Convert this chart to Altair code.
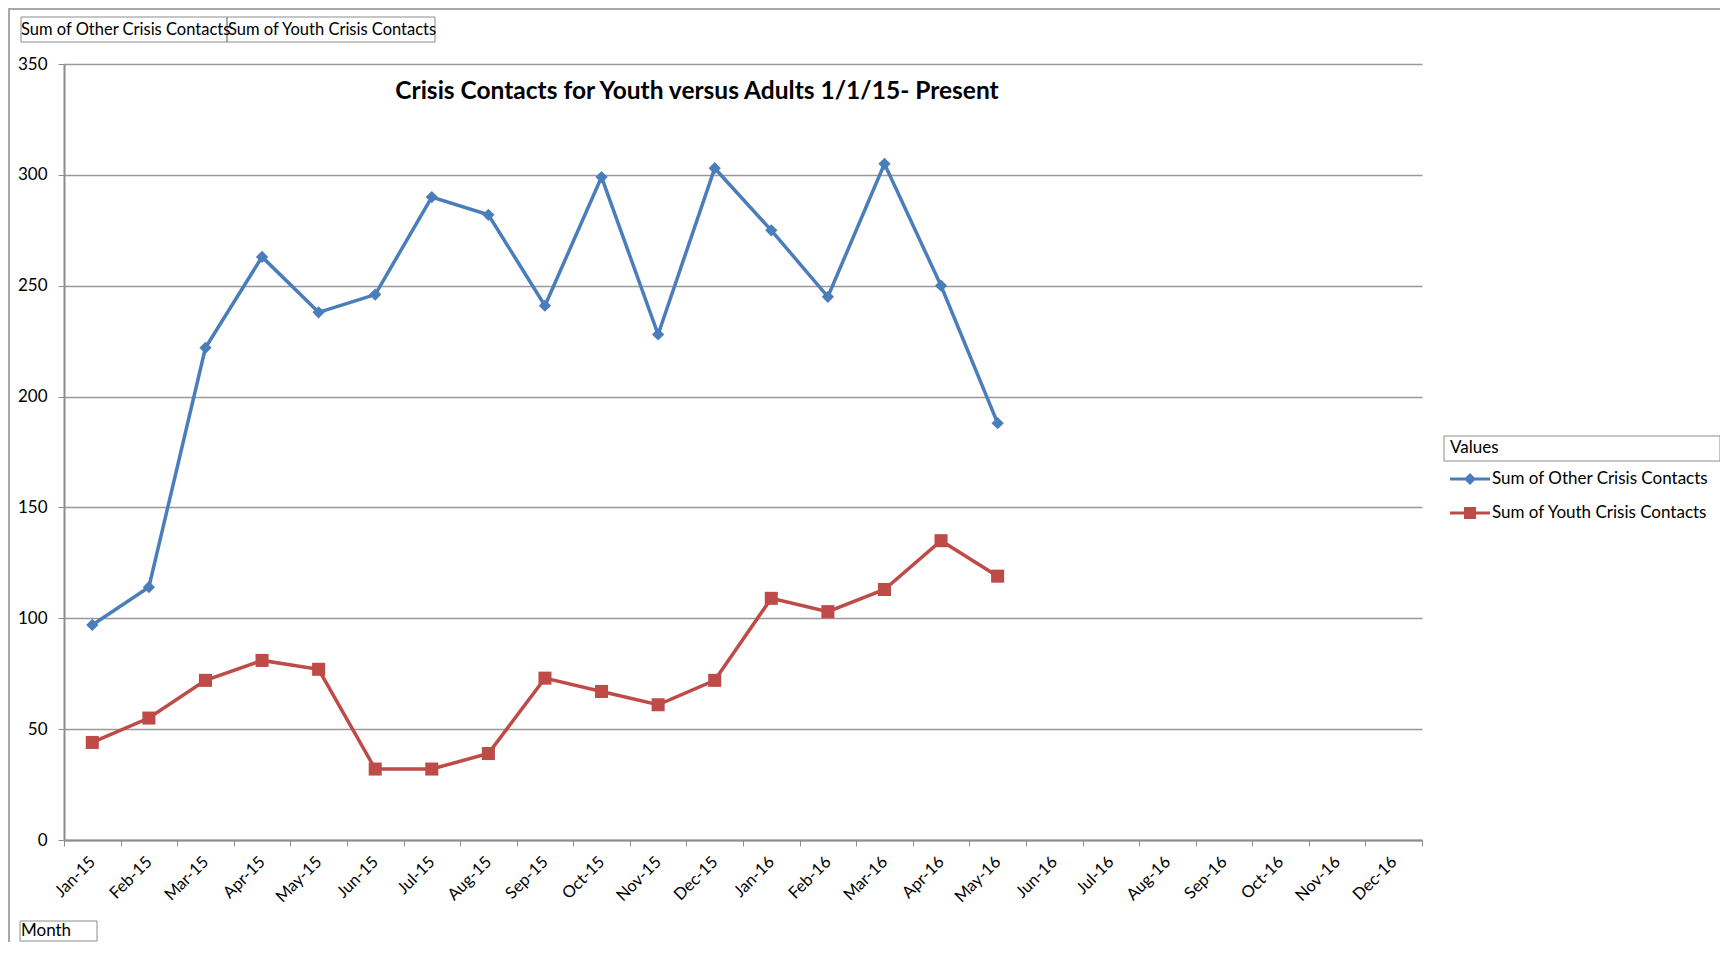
import altair as alt
import pandas as pd

months = ["Jan-15", "Feb-15", "Mar-15", "Apr-15", "May-15", "Jun-15", "Jul-15", "Aug-15",
          "Sep-15", "Oct-15", "Nov-15", "Dec-15", "Jan-16", "Feb-16", "Mar-16", "Apr-16",
          "May-16", "Jun-16", "Jul-16", "Aug-16", "Sep-16", "Oct-16", "Nov-16", "Dec-16"]
data_months = months[:17]
other = [97, 114, 222, 263, 238, 246, 290, 282, 241, 299, 228, 303, 275, 245, 305, 250, 188]
youth = [44, 55, 72, 81, 77, 32, 32, 39, 73, 67, 61, 72, 109, 103, 113, 135, 119]
series_names = ["Sum of Other Crisis Contacts", "Sum of Youth Crisis Contacts"]
colors = ["#4A7EBB", "#BE4B48"]
y_ticks = [0, 50, 100, 150, 200, 250, 300, 350]
title_text = "Crisis Contacts for Youth versus Adults 1/1/15- Present"
legend_title = "Values"
axis_button = "Month"

df = pd.DataFrame({
    "Month": data_months * 2,
    "Value": other + youth,
    "Series": [series_names[0]] * len(other) + [series_names[1]] * len(youth),
})

GRAY = "#8c8c8c"

x_enc = alt.X("Month:N", sort=months,
              scale=alt.Scale(type="band", domain=months, paddingInner=0, paddingOuter=0),
              axis=alt.Axis(title=None, labelAngle=-45, labelAlign="right", labelBaseline="middle",
                            tickBand="extent", labelFont="Lato", labelFontSize=16.5, labelColor="black",
                            domainColor=GRAY, domainWidth=2, tickColor=GRAY, tickSize=6,
                            labelPadding=13, grid=False))
y_enc = alt.Y("Value:Q", scale=alt.Scale(domain=[0, 350]),
              axis=alt.Axis(title=None, values=y_ticks, grid=True, gridColor="#999999", gridWidth=1.5,
                            domainColor=GRAY, domainWidth=2, tickColor=GRAY, tickSize=6,
                            labelFont="Lato", labelFontSize=17, labelColor="black",
                            labelPadding=11))
color_scale = alt.Scale(domain=series_names, range=colors)

base = alt.Chart(df)

lines = base.mark_line(strokeWidth=3.5).encode(
    x=x_enc, y=y_enc, color=alt.Color("Series:N", scale=color_scale, legend=None))

points = base.mark_point(filled=True, opacity=1).encode(
    x=x_enc, y=y_enc,
    color=alt.Color("Series:N", scale=color_scale, legend=None),
    shape=alt.Shape("Series:N", scale=alt.Scale(domain=series_names, range=["diamond", "square"]),
                    legend=None),
    size=alt.Size("Series:N", scale=alt.Scale(domain=series_names, range=[150, 170]), legend=None))

path_diamond = "M-1,-0.075L1,-0.075L1,0.075L-1,0.075Z M0,-0.3L0.3,0L0,0.3L-0.3,0Z"
path_square = "M-1,-0.075L1,-0.075L1,0.075L-1,0.075Z M-0.3,-0.3L0.3,-0.3L0.3,0.3L-0.3,0.3Z"

leg = alt.Legend(title=legend_title, orient="none", legendX=1386, legendY=376,
                 titleFont="Lato", titleFontSize=17, titleFontWeight="normal", titleColor="black",
                 titlePadding=12, labelFont="Lato", labelFontSize=17, labelColor="black",
                 labelOffset=2, symbolSize=1600, symbolStrokeWidth=0, symbolOpacity=1,
                 clipHeight=20, rowPadding=14, padding=0, labelLimit=400)

legend_layer = base.transform_filter("false").mark_point(filled=True, opacity=1).encode(
    x=x_enc, y=y_enc,
    color=alt.Color("Series:N", scale=color_scale, legend=leg),
    shape=alt.Shape("Series:N", scale=alt.Scale(domain=series_names, range=[path_diamond, path_square]),
                    legend=leg))

one = pd.DataFrame({"k": [0]})

frame = alt.Chart(one).mark_rect(filled=False, stroke="#8c8c8c", strokeWidth=1.5).encode(
    x=alt.value(-55), x2=alt.value(2000), y=alt.value(-55), y2=alt.value(2000))

box1 = alt.Chart(one).mark_rect(filled=False, stroke="#8c8c8c", strokeWidth=1).encode(
    x=alt.value(-43), x2=alt.value(163), y=alt.value(-47), y2=alt.value(-22))
box2 = alt.Chart(one).mark_rect(filled=False, stroke="#8c8c8c", strokeWidth=1).encode(
    x=alt.value(163), x2=alt.value(371), y=alt.value(-47), y2=alt.value(-22))
box_leg = alt.Chart(one).mark_rect(filled=False, stroke="#8c8c8c", strokeWidth=1).encode(
    x=alt.value(1380), x2=alt.value(1656), y=alt.value(372), y2=alt.value(397))
box_month = alt.Chart(one).mark_rect(filled=False, stroke="#8c8c8c", strokeWidth=1).encode(
    x=alt.value(-44), x2=alt.value(33), y=alt.value(857), y2=alt.value(877))

t1 = alt.Chart(pd.DataFrame({"t": [series_names[0]]})).mark_text(
    font="Lato", fontSize=16.5, align="left", baseline="middle", color="black").encode(
    text="t:N", x=alt.value(-43), y=alt.value(-34))
t2 = alt.Chart(pd.DataFrame({"t": [series_names[1]]})).mark_text(
    font="Lato", fontSize=16.5, align="left", baseline="middle", color="black").encode(
    text="t:N", x=alt.value(164), y=alt.value(-34))
t_month = alt.Chart(pd.DataFrame({"t": [axis_button]})).mark_text(
    font="Lato", fontSize=17, align="left", baseline="middle", color="black").encode(
    text="t:N", x=alt.value(-43), y=alt.value(867))
t_title = alt.Chart(pd.DataFrame({"t": [title_text]})).mark_text(
    font="Lato", fontSize=24.5, fontWeight="bold", align="center", baseline="middle", color="black").encode(
    text="t:N", x=alt.value(633), y=alt.value(28))

chart = alt.layer(
    frame, box1, box2, box_leg, box_month, t1, t2, t_month, t_title,
    lines, points, legend_layer
).resolve_scale(color="independent", shape="independent", size="independent").properties(
    width=1358, height=776,
    padding={"left": 56, "top": 56, "right": 298, "bottom": 102},
    autosize=alt.AutoSizeParams(type="none"),
    view=alt.ViewBackground(stroke="transparent", strokeWidth=0),
).configure_view(strokeWidth=0, stroke="transparent").configure(background="white")

chart.save("out.html", embed_options={"renderer": "svg", "actions": False})
